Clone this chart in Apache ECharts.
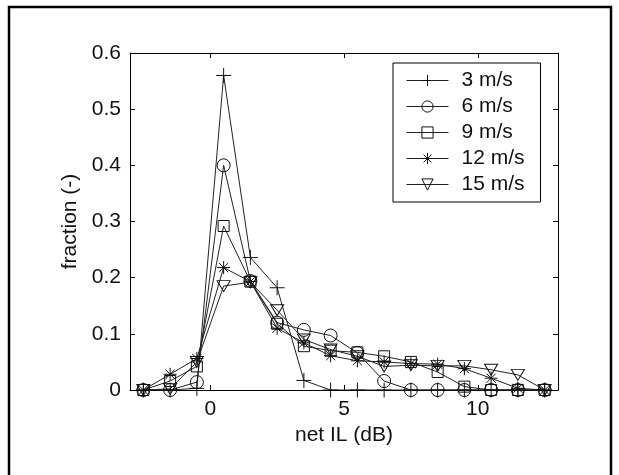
<!DOCTYPE html>
<html>
<head>
<meta charset="utf-8">
<script src="https://cdn.jsdelivr.net/npm/echarts@6/dist/echarts.min.js"></script>
<style>
html,body{margin:0;padding:0;background:#fff;}
#chart{width:619px;height:475px;}
</style>
</head>
<body>
<div id="chart"></div>
<script>
// ---- data ----
var netIL = [-2.5, -1.5, -0.5, 0.5, 1.5, 2.5, 3.5, 4.5, 5.5, 6.5, 7.5, 8.5, 9.5, 10.5, 11.5, 12.5];
var seriesNames = ['3 m/s', '6 m/s', '9 m/s', '12 m/s', '15 m/s'];
var frac3  = [0, 0, 0.003, 0.56, 0.236, 0.182, 0.017, 0, 0, 0, 0, 0, 0, 0, 0, 0];
var frac6  = [0, 0, 0.014, 0.40, 0.194, 0.12, 0.107, 0.097, 0.066, 0.016, 0, 0, 0, 0, 0, 0];
var frac9  = [0, 0.016, 0.042, 0.292, 0.193, 0.118, 0.078, 0.07, 0.067, 0.06, 0.05, 0.032, 0.006, 0, 0, 0];
var frac12 = [0, 0.028, 0.056, 0.218, 0.193, 0.11, 0.084, 0.061, 0.052, 0.05, 0.047, 0.046, 0.038, 0.021, 0.003, 0];
var frac15 = [0, 0.002, 0.05, 0.185, 0.192, 0.142, 0.09, 0.072, 0.06, 0.042, 0.044, 0.043, 0.043, 0.036, 0.027, 0];
var xTicks = [0, 5, 10];
var yTicks = [0, 0.1, 0.2, 0.3, 0.4, 0.5, 0.6];

var allValues = [frac3, frac6, frac9, frac12, frac15];
var symbols = [
  'path://M5,0L5,10M0,5L10,5',
  'circle',
  'rect',
  'path://M5,0L5,10M0,5L10,5M1.5,1.5L8.5,8.5M8.5,1.5L1.5,8.5',
  'path://M0,0L10,0L5,8.66Z'
];
var symbolSizes = [15, 13, 11, 13, [13, 11]];

var FONT = 'Liberation Sans, Arial, Helvetica, sans-serif';
var INK = '#111';
var FS = 21;

var series = seriesNames.map(function (name, i) {
  return {
    name: name,
    type: 'line',
    data: netIL.map(function (x, j) { return [x, allValues[i][j]]; }),
    symbol: symbols[i],
    symbolSize: symbolSizes[i],
    showAllSymbol: true,
    animation: false,
    lineStyle: { color: '#222', width: 1 },
    itemStyle: { color: 'rgba(0,0,0,0)', borderColor: '#111', borderWidth: 1 },
    emphasis: { disabled: true },
    z: 3
  };
});

var axisCommon = {
  axisLine: { show: true, onZero: false, lineStyle: { color: '#000', width: 1 } },
  axisTick: { show: true, inside: true, length: 5, lineStyle: { color: '#000', width: 1 } },
  splitLine: { show: false }
};

var option = {
  backgroundColor: '#fff',
  animation: false,
  grid: { left: 130, right: 61, top: 53, bottom: 85, containLabel: false },
  legend: {
    orient: 'vertical',
    left: 393,
    top: 63,
    padding: [7, 16, 7, 13],
    itemGap: 5,
    itemWidth: 42,
    itemHeight: 14,
    borderColor: '#000',
    borderWidth: 1,
    backgroundColor: '#fff',
    data: seriesNames,
    lineStyle: { width: 1, color: '#222' },
    itemStyle: { color: 'rgba(0,0,0,0)', borderColor: '#111', borderWidth: 1 },
    textStyle: { fontFamily: FONT, fontSize: FS, color: INK, lineHeight: 21, padding: [0, 0, 0, 8] },
    selectedMode: false
  },
  xAxis: [
    Object.assign({}, axisCommon, {
      type: 'value', min: -3, max: 13, position: 'bottom',
      axisTick: Object.assign({}, axisCommon.axisTick, { customValues: xTicks }),
      axisLabel: { customValues: xTicks, fontFamily: FONT, fontSize: FS, color: INK, margin: 9 },
      name: 'net IL (dB)', nameLocation: 'middle', nameGap: 35,
      nameTextStyle: { fontFamily: FONT, fontSize: FS, color: INK }
    }),
    Object.assign({}, axisCommon, {
      type: 'value', min: -3, max: 13, position: 'top',
      axisTick: Object.assign({}, axisCommon.axisTick, { customValues: xTicks }),
      axisLabel: { show: false }
    })
  ],
  yAxis: [
    Object.assign({}, axisCommon, {
      type: 'value', min: 0, max: 0.6, interval: 0.1, position: 'left',
      axisLabel: { fontFamily: FONT, fontSize: FS, color: INK, margin: 9 },
      name: 'fraction (-)', nameLocation: 'middle', nameGap: 43,
      nameTextStyle: { fontFamily: FONT, fontSize: FS, color: INK }
    }),
    Object.assign({}, axisCommon, {
      type: 'value', min: 0, max: 0.6, interval: 0.1, position: 'right',
      axisLabel: { show: false }
    })
  ],
  graphic: [{
    type: 'rect',
    shape: { x: 9, y: 7, width: 602, height: 480 },
    style: { fill: 'none', stroke: '#000', lineWidth: 2.5 },
    silent: true
  }],
  series: series
};

var chart = echarts.init(document.getElementById('chart'), null, { renderer: 'canvas' });
chart.setOption(option);
</script>
</body>
</html>
